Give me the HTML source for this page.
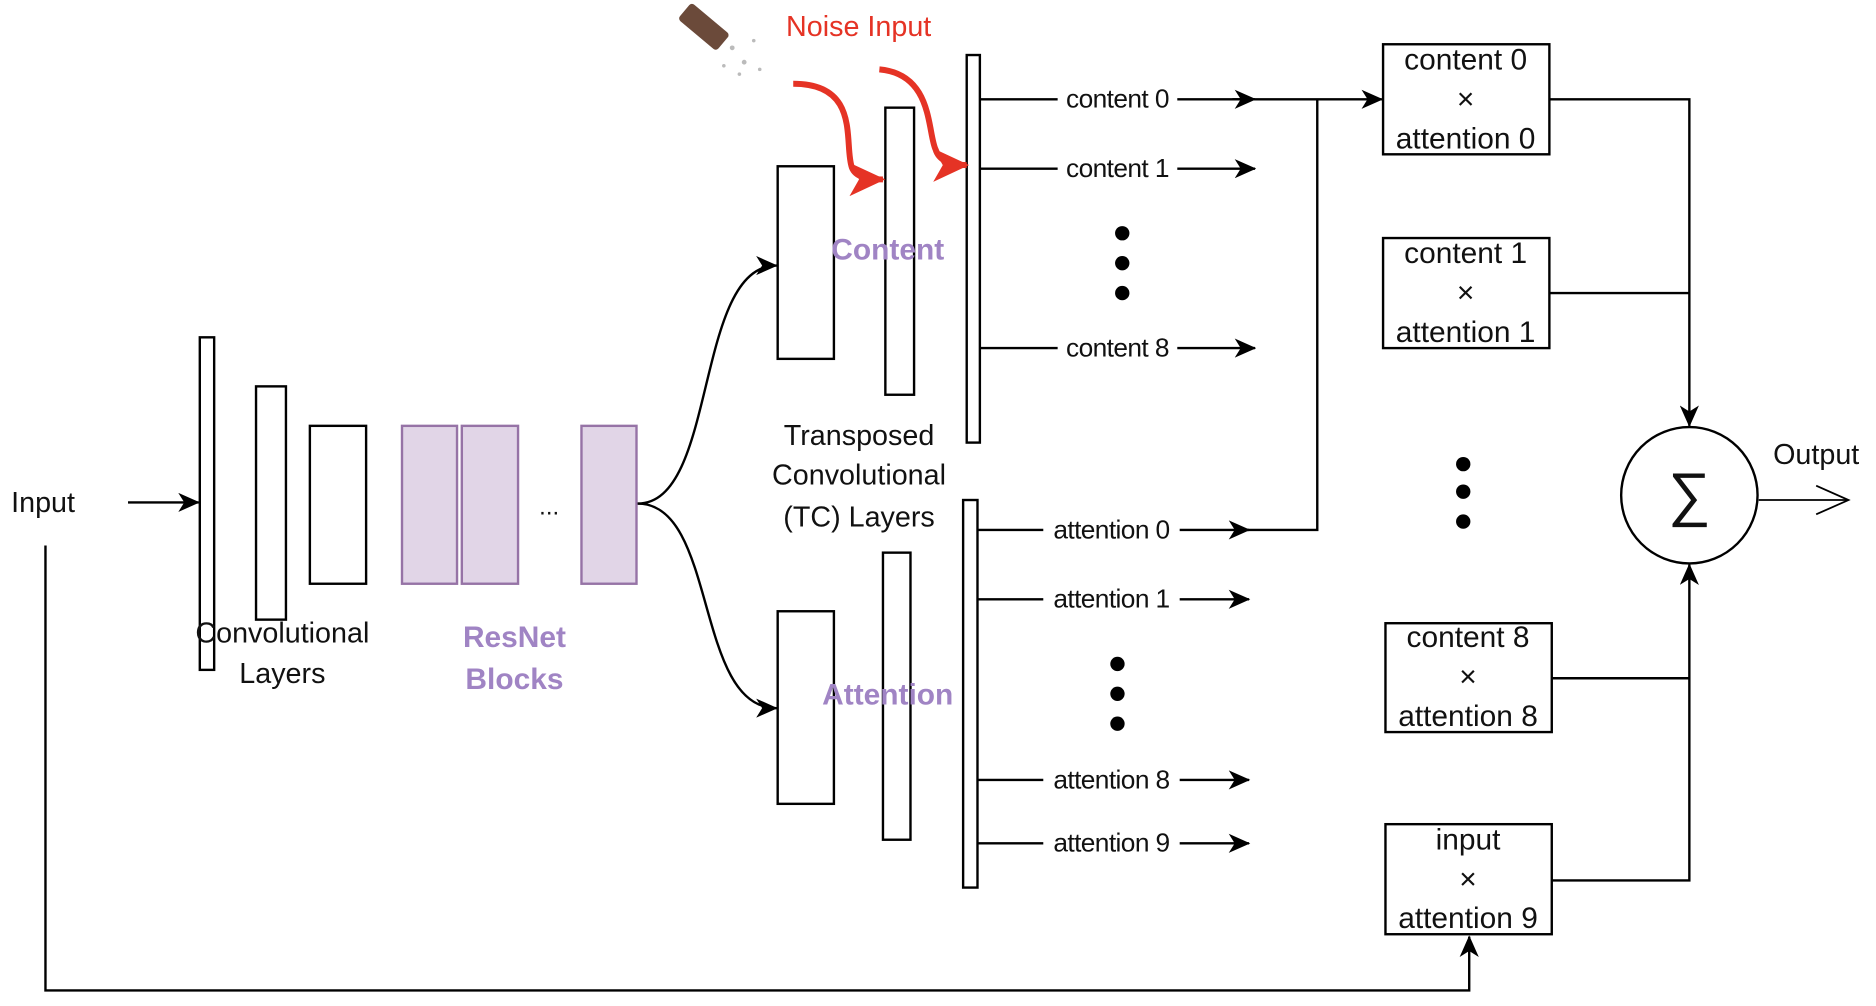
<!DOCTYPE html>
<html><head><meta charset="utf-8"><style>
html,body{margin:0;padding:0;background:#fff;width:1876px;height:1006px;overflow:hidden}
svg{display:block}
text{font-family:"Liberation Sans",sans-serif}
</style></head><body>
<svg width="1876" height="1006" viewBox="0 0 1568 841" preserveAspectRatio="none" xmlns="http://www.w3.org/2000/svg">
<defs>
<marker id="a" markerWidth="18" markerHeight="16" refX="17" refY="8" orient="auto" markerUnits="userSpaceOnUse"><path d="M0,0 L18,8 L0,16 L5,8 z" fill="#000"/></marker>
<marker id="ar" markerWidth="30" markerHeight="28" refX="28" refY="14" orient="auto" markerUnits="userSpaceOnUse"><path d="M0,0 L30,14 L0,28 L8,14 z" fill="#e53325"/></marker>
</defs>
<g fill="none" stroke="#000" stroke-width="2">
<line x1="107" y1="420" x2="166" y2="420" marker-end="url(#a)"/>
<rect x="167" y="282" width="12" height="278" fill="#fff"/>
<rect x="214" y="323" width="25" height="195"/>
<rect x="259" y="356" width="47" height="132"/>
<g fill="#e1d5e7" stroke="#9673a6"><rect x="336" y="356" width="46" height="132"/><rect x="386" y="356" width="47" height="132"/><rect x="486" y="356" width="46" height="132"/></g>
<path d="M533,421 C600,421 580,222 649,222" marker-end="url(#a)"/>
<path d="M533,421 C600,421 580,592 649,592" marker-end="url(#a)"/>
<rect x="650" y="139" width="47" height="161"/>
<rect x="740" y="90" width="24" height="240"/>
<rect x="808" y="46" width="11" height="324"/>
<rect x="650" y="511" width="47" height="161"/>
<rect x="738" y="462" width="23" height="240"/>
<rect x="805" y="418" width="12" height="324"/>
<line x1="819" y1="83" x2="1155" y2="83" marker-end="url(#a)"/>
<line x1="1030" y1="83" x2="1049" y2="83" marker-end="url(#a)"/>
<line x1="819" y1="141" x2="1049" y2="141" marker-end="url(#a)"/>
<line x1="819" y1="291" x2="1049" y2="291" marker-end="url(#a)"/>
<line x1="817" y1="443" x2="1044" y2="443" marker-end="url(#a)"/>
<polyline points="1040,443 1101,443 1101,83"/>
<line x1="817" y1="501" x2="1044" y2="501" marker-end="url(#a)"/>
<line x1="817" y1="652" x2="1044" y2="652" marker-end="url(#a)"/>
<line x1="817" y1="705" x2="1044" y2="705" marker-end="url(#a)"/>
<rect x="1156" y="37" width="139" height="92"/>
<rect x="1156" y="199" width="139" height="92"/>
<rect x="1158" y="521" width="139" height="91"/>
<rect x="1158" y="689" width="139" height="92"/>
<polyline points="1295,83 1412,83 1412,356" marker-end="url(#a)"/>
<line x1="1295" y1="245" x2="1412" y2="245"/>
<polyline points="1297,736 1412,736 1412,472" marker-end="url(#a)"/>
<line x1="1297" y1="567" x2="1412" y2="567"/>
<circle cx="1412" cy="414" r="57"/>
<line x1="1470" y1="418" x2="1545" y2="418" stroke-width="1.5"/>
<polyline points="1518,406 1545,418 1518,430" stroke-width="1.5"/>
<polyline points="38,456 38,828 1228,828 1228,783" marker-end="url(#a)"/>
</g>
<g stroke="#e53325" stroke-width="5" fill="none">
<path d="M663,70 C720,70 705,120 712,140 C715,148 725,150 738,150" marker-end="url(#ar)"/>
<path d="M735,58 C780,62 775,110 782,125 C785,135 795,138 808,138" marker-end="url(#ar)"/>
</g>
<g transform="translate(578,2) rotate(40)"><rect x="0" y="0" width="42" height="18" rx="3" fill="#6b4a3a"/></g>
<g fill="#bbb"><circle cx="612" cy="40" r="2"/><circle cx="622" cy="52" r="2"/><circle cx="630" cy="34" r="1.5"/><circle cx="618" cy="62" r="1.5"/><circle cx="635" cy="58" r="1.5"/><circle cx="605" cy="55" r="1.5"/></g>
<g fill="#000">
<circle cx="938" cy="195" r="6"/><circle cx="938" cy="220" r="6"/><circle cx="938" cy="245" r="6"/>
<circle cx="934" cy="555" r="6"/><circle cx="934" cy="580" r="6"/><circle cx="934" cy="605" r="6"/>
<circle cx="1223" cy="388" r="6"/><circle cx="1223" cy="411" r="6"/><circle cx="1223" cy="436" r="6"/>
</g>
<g font-size="24" fill="#111" text-anchor="middle">
<text x="36" y="428">Input</text>
<text x="236" y="537">Convolutional</text><text x="236" y="571">Layers</text>
<text x="459" y="430" font-size="20">...</text>
<text x="718" y="372">Transposed</text><text x="718" y="405">Convolutional</text><text x="718" y="440">(TC) Layers</text>
<text x="1518" y="388">Output</text>
<text x="1412" y="430" font-size="50">∑</text>
</g>
<g font-size="22" fill="#111" text-anchor="middle" letter-spacing="-0.5">
<rect x="884" y="70" width="100" height="24" fill="#fff"/><text x="934" y="90">content 0</text>
<rect x="884" y="128" width="100" height="24" fill="#fff"/><text x="934" y="148">content 1</text>
<rect x="884" y="278" width="100" height="24" fill="#fff"/><text x="934" y="298">content 8</text>
<rect x="872" y="430" width="114" height="24" fill="#fff"/><text x="929" y="450">attention 0</text>
<rect x="872" y="488" width="114" height="24" fill="#fff"/><text x="929" y="508">attention 1</text>
<rect x="872" y="639" width="114" height="24" fill="#fff"/><text x="929" y="659">attention 8</text>
<rect x="872" y="692" width="114" height="24" fill="#fff"/><text x="929" y="712">attention 9</text>
<g font-size="25" letter-spacing="0">
<text x="1225" y="58">content 0</text><text x="1225" y="91">×</text><text x="1225" y="124">attention 0</text>
<text x="1225" y="220">content 1</text><text x="1225" y="253">×</text><text x="1225" y="286">attention 1</text>
<text x="1227" y="541">content 8</text><text x="1227" y="574">×</text><text x="1227" y="607">attention 8</text>
<text x="1227" y="710">input</text><text x="1227" y="743">×</text><text x="1227" y="776">attention 9</text>
</g>
</g>
<g font-size="25" font-weight="bold" fill="#a084c4" text-anchor="middle">
<text x="430" y="541">ResNet</text><text x="430" y="576">Blocks</text>
<text x="742" y="217">Content</text>
<text x="742" y="589">Attention</text>
</g>
<text x="657" y="30" font-size="24" fill="#e53325">Noise Input</text>
</svg>
</body></html>
